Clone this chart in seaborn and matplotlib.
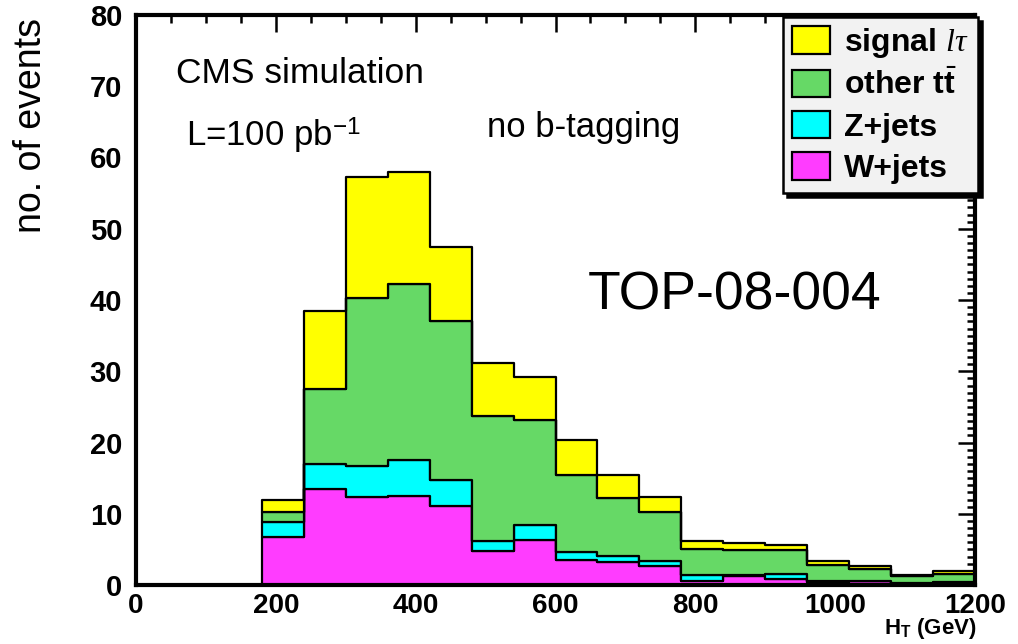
import numpy as np
import pandas as pd
import matplotlib
matplotlib.use("Agg")
import matplotlib.pyplot as plt
from matplotlib.ticker import MultipleLocator
import seaborn as sns

# H_T binning (GeV) and expected events per bin for 100 pb^-1
bin_edges = list(range(180, 1201, 60))
w_jets = [6.8, 13.5, 12.4, 12.5, 11.1, 4.8, 6.3, 3.5, 3.2, 2.7, 0.55, 1.3, 0.8, 0.4, 0.5, 0.15, 0.3]
z_jets = [2.0, 3.5, 4.3, 5.0, 3.6, 1.4, 2.1, 1.1, 0.8, 0.7, 0.85, 0.1, 0.7, 0.1, 0.1, 0.15, 0.1]
other_tt = [1.5, 10.5, 23.6, 24.7, 22.4, 17.5, 14.8, 10.8, 8.2, 6.8, 3.6, 3.5, 3.4, 2.3, 1.6, 1.0, 1.2]
signal_lt = [1.6, 11.0, 17.0, 15.7, 10.4, 7.4, 6.0, 4.9, 3.3, 2.2, 1.2, 1.0, 0.7, 0.6, 0.5, 0.1, 0.3]

process_names = ["signal $l\\tau$", "other $\\mathbf{t}\\bar{\\mathbf{t}}$", "Z+jets", "W+jets"]
process_values = [signal_lt, other_tt, z_jets, w_jets]
process_colors = ["#ffff00", "#66d966", "#00ffff", "#ff3cff"]

sns.set_theme(style="white")
plt.rcParams["font.family"] = ["Liberation Sans", "DejaVu Sans"]
plt.rcParams["mathtext.fontset"] = "custom"
plt.rcParams["mathtext.rm"] = "Liberation Sans"
plt.rcParams["mathtext.bf"] = "Liberation Sans:bold"
plt.rcParams["mathtext.it"] = "Liberation Serif:italic"
for key in ["text.color", "axes.labelcolor", "xtick.color", "ytick.color"]:
    plt.rcParams[key] = "black"

edges = np.array(bin_edges, dtype=float)
centers = (edges[:-1] + edges[1:]) / 2
df = pd.concat(
    [pd.DataFrame({"ht": centers, "events": vals, "process": name})
     for name, vals in zip(process_names, process_values)],
    ignore_index=True,
)

W, H = 1018, 644
fig = plt.figure(figsize=(W / 100, H / 100), dpi=100)
x0, x1, y_top, y_bot = 136, 975, 15, 585
ax = fig.add_axes([x0 / W, 1 - y_bot / H, (x1 - x0) / W, (y_bot - y_top) / H])

sns.histplot(
    data=df, x="ht", weights="events", hue="process", hue_order=process_names,
    bins=bin_edges, multiple="stack", element="step", fill=True, alpha=1,
    palette=dict(zip(process_names, process_colors)),
    edgecolor="black", linewidth=1.6, ax=ax,
)

ax.set_xlim(0, 1200)
ax.set_ylim(0, 80)
ax.xaxis.set_major_locator(MultipleLocator(200))
ax.xaxis.set_minor_locator(MultipleLocator(50))
ax.yaxis.set_major_locator(MultipleLocator(10))
ax.yaxis.set_minor_locator(MultipleLocator(1))
ax.tick_params(which="both", direction="in", top=True, right=True,
               color="black", width=1.8)
ax.tick_params(which="major", length=12)
ax.tick_params(axis="y", which="major", labelsize=21, pad=10)
ax.tick_params(axis="x", which="major", labelsize=20, pad=6)
ax.tick_params(which="minor", length=6)
for lbl in ax.get_xticklabels() + ax.get_yticklabels():
    lbl.set_fontweight("bold")
    lbl.set_color("black")
for sp in ax.spines.values():
    sp.set_linewidth(3.0)
    sp.set_color("black")
ax.set_xlabel("")
ax.set_ylabel("")

sns.move_legend(
    ax, "upper right", bbox_to_anchor=(978 / W, 1 - 17 / H),
    bbox_transform=fig.transFigure, title=None, frameon=True,
    prop={"family": "Liberation Sans", "weight": "bold", "size": 23},
    borderaxespad=0, handlelength=1.2, handleheight=0.95,
    handletextpad=0.45, labelspacing=0.3, borderpad=0.28,
    fancybox=False, edgecolor="black", facecolor="#f2f2f2", framealpha=1,
    shadow={"color": "black", "alpha": 1, "ox": 3, "oy": -3},
)
leg = ax.get_legend()
leg.get_frame().set_linewidth(1.8)
for t in leg.get_texts():
    t.set_color("black")

# Annotations (positions in data coordinates of the axes)
ax.text(57, 71.8, "CMS simulation", fontsize=25.5, va="center", ha="left")
ax.text(71, 63.0, "L=100 pb$^{-1}$", fontsize=25, va="center", ha="left")
ax.text(502, 64.2, "no b-tagging", fontsize=25, va="center", ha="left")
ax.text(646, 38.7, "TOP-08-004", fontsize=38.5, va="baseline", ha="left")

fig.text(31 / W, 1 - 18 / H, "no. of events", rotation=90, fontsize=27,
         ha="center", va="top")
fig.text(977 / W, 1 - 634 / H, "H$_\\mathbf{T}$ (GeV)", fontsize=16,
         fontweight="bold", ha="right", va="baseline")

fig.savefig("out.png", dpi=100)
